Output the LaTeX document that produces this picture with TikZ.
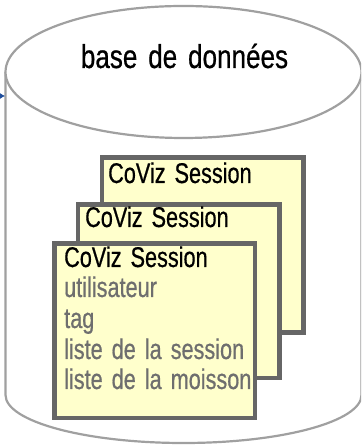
\documentclass[tikz,border=0pt]{standalone}
\usepackage{fontspec}
\setmainfont{Liberation Sans}
\newfontfamily\condfont{Liberation Sans}[FakeStretch=0.76, WordSpace=1.5, FakeBold=0.6]
\newfontfamily\titlefont{Liberation Sans}[FakeStretch=0.79, WordSpace=1.5, FakeBold=0.6]
\usetikzlibrary{arrows.meta}
\definecolor{cylgray}{HTML}{A0A0A0}
\definecolor{boxborder}{HTML}{666666}
\definecolor{boxfill}{HTML}{FFFFCC}
\definecolor{fieldgray}{HTML}{6E6E6E}
\definecolor{arrowblue}{HTML}{1F4E9C}
\tikzset{
  cyl/.style={draw=cylgray, line width=2.2pt},
  sessbox/.style={draw=boxborder, fill=boxfill, line width=4.5pt, rectangle, inner sep=0pt, anchor=north west},
  head/.style={anchor=base west, inner sep=0pt, text=black, font=\condfont\fontsize{28.5}{30}\selectfont},
  field/.style={anchor=base west, inner sep=0pt, text=fieldgray, font=\condfont\fontsize{28.5}{30}\selectfont},
  title/.style={anchor=base, inner sep=0pt, text=black, font=\titlefont\fontsize{33}{36}\selectfont},
}
\begin{document}
\begin{tikzpicture}[x=1pt,y=1pt]
\useasboundingbox (0,0) rectangle (361,446);
\clip (0,0) rectangle (361,446);
% cylinder
\draw[cyl] (5.5,374) -- (5.5,51) arc[start angle=180, end angle=360, x radius=178, y radius=48] -- (361.5,374);
\draw[cyl, fill=white] (183.5,374) ellipse [x radius=178, y radius=66];
\node[title] (db) at (184.5,378) {base de données};
% incoming arrow
\coordinate (src) at (-15,350);
\coordinate (hit) at (5,350);
\draw[arrowblue, line width=1pt, -{Latex[length=5pt,width=6pt]}] (src) -- (hit);
% session boxes
\node[sessbox, minimum width=201.5pt, minimum height=175pt] (b3) at (99.5,290.5) {};
\node[head] (t3) at (108,263) {CoViz Session};
\node[sessbox, minimum width=201.5pt, minimum height=173.5pt] (b2) at (75.5,243.75) {};
\node[head] (t2) at (85,219) {CoViz Session};
\node[sessbox, minimum width=200.5pt, minimum height=174.5pt] (b1) at (52.25,204.5) {};
\node[head] (t1) at (64,179) {CoViz Session};
\node[field] (f1) at (64,149) {utilisateur};
\node[field] (f2) at (64,118) {tag};
\node[field] (f3) at (64,87) {liste de la session};
\node[field] (f4) at (64,57) {liste de la moisson};
\end{tikzpicture}
\end{document}
